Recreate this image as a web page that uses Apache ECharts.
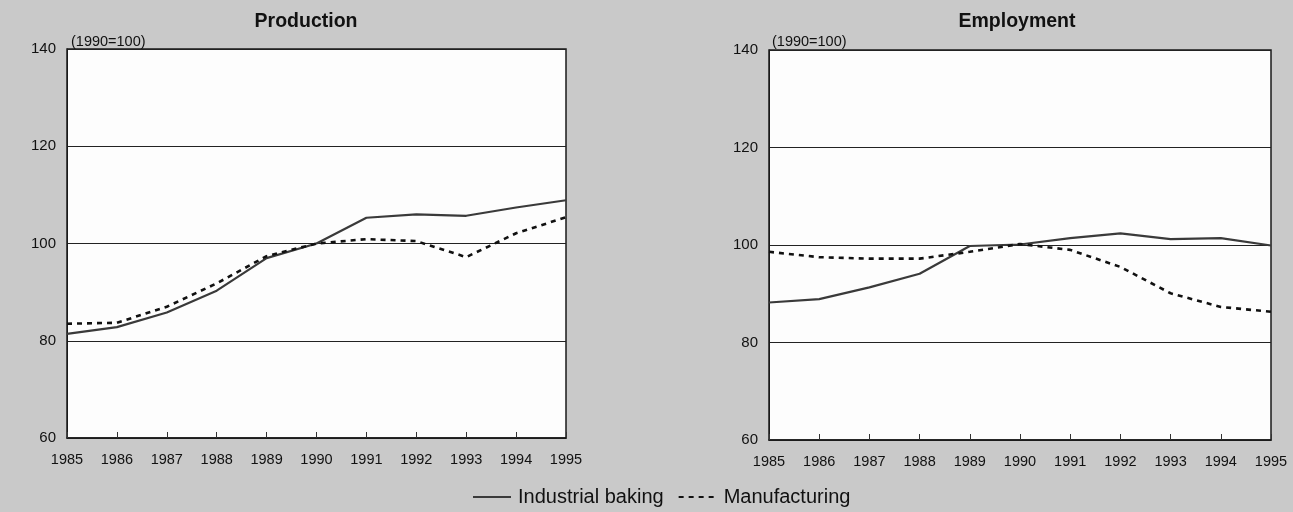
<!DOCTYPE html>
<html>
<head>
<meta charset="utf-8">
<script src="https://cdn.jsdelivr.net/npm/echarts@6/dist/echarts.min.js"></script>
<style>
html,body{margin:0;padding:0;background:#c9c9c9;}
#c{width:1293px;height:512px;}
</style>
</head>
<body>
<div id="c"></div>
<script>
const years = ['1985','1986','1987','1988','1989','1990','1991','1992','1993','1994','1995'];
const prodBaking = [81.4, 82.8, 85.8, 90.3, 97.0, 100.0, 105.3, 106.0, 105.7, 107.4, 108.9];
const prodManuf  = [83.5, 83.7, 87.0, 91.8, 97.4, 100.0, 100.9, 100.5, 97.2, 102.1, 105.4];
const empBaking  = [88.2, 88.9, 91.3, 94.1, 99.8, 100.1, 101.4, 102.4, 101.2, 101.4, 99.9];
const empManuf   = [98.6, 97.5, 97.2, 97.2, 98.6, 100.2, 99.0, 95.5, 90.1, 87.3, 86.3];
const panelTitles = ['Production', 'Employment'];
const seriesNames = ['Industrial baking', 'Manufacturing'];
const unitLabel = '(1990=100)';

const font = 'Liberation Sans, Arial, sans-serif';
const chart = echarts.init(document.getElementById('c'));

function xAxis(i){
  return {
    type:'category', gridIndex:i, data:years, boundaryGap:false,
    axisLine:{show:true, lineStyle:{color:'#1a1a1a', width:1.5}},
    axisTick:{show:true, inside:true, length:6, alignWithLabel:true, lineStyle:{color:'#333'}},
    axisLabel:{color:'#111', fontSize:14.5, fontFamily:font, margin:14, interval:0},
    splitLine:{show:false}
  };
}
function yAxis(i){
  return {
    type:'value', gridIndex:i, min:60, max:140, interval:20,
    axisLine:{show:true, lineStyle:{color:'#1a1a1a', width:1}},
    axisTick:{show:false},
    axisLabel:{color:'#111', fontSize:15, fontFamily:font, margin:11},
    splitLine:{show:true, lineStyle:{color:'#222', width:1}}
  };
}
const solid = {color:'#3a3a3a', width:2.2, type:'solid'};
const dashed = {color:'#111', width:2.6, type:[5,5]};

chart.setOption({
  backgroundColor:'#c9c9c9',
  animation:false,
  title:[
    {text:panelTitles[0], left:301, top:7, textAlign:'center', textStyle:{fontSize:19.5, fontWeight:'bold', color:'#111', fontFamily:font}},
    {text:panelTitles[1], left:1012, top:7, textAlign:'center', textStyle:{fontSize:19.5, fontWeight:'bold', color:'#111', fontFamily:font}},
    {text:unitLabel, left:66, top:29, textStyle:{fontSize:14.5, fontWeight:'normal', color:'#111', fontFamily:font}},
    {text:unitLabel, left:767, top:29, textStyle:{fontSize:14.5, fontWeight:'normal', color:'#111', fontFamily:font}}
  ],
  legend:{
    data:seriesNames, bottom:0, left:467, itemWidth:38, itemHeight:10, itemGap:14,
    itemStyle:{opacity:0},
    textStyle:{fontSize:20, color:'#111', fontFamily:font, padding:[0,0,0,2]}
  },
  grid:[
    {left:67, top:49, width:499, height:389, show:true, backgroundColor:'#fdfdfd', borderColor:'#1a1a1a', borderWidth:1.5},
    {left:769, top:50, width:502, height:390, show:true, backgroundColor:'#fdfdfd', borderColor:'#1a1a1a', borderWidth:1.5}
  ],
  xAxis:[xAxis(0), xAxis(1)],
  yAxis:[yAxis(0), yAxis(1)],
  series:[
    {name:seriesNames[0], type:'line', xAxisIndex:0, yAxisIndex:0, data:prodBaking, symbol:'none', lineStyle:solid, itemStyle:{color:'#3a3a3a'}},
    {name:seriesNames[1], type:'line', xAxisIndex:0, yAxisIndex:0, data:prodManuf, symbol:'none', lineStyle:dashed, itemStyle:{color:'#111'}},
    {name:seriesNames[0], type:'line', xAxisIndex:1, yAxisIndex:1, data:empBaking, symbol:'none', lineStyle:solid, itemStyle:{color:'#3a3a3a'}},
    {name:seriesNames[1], type:'line', xAxisIndex:1, yAxisIndex:1, data:empManuf, symbol:'none', lineStyle:dashed, itemStyle:{color:'#111'}}
  ]
});
</script>
</body>
</html>
